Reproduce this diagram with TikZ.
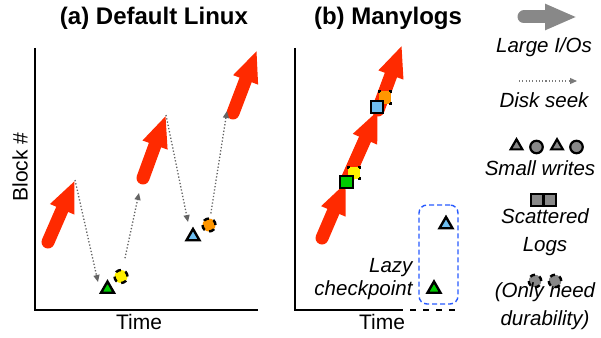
\documentclass[tikz,border=0pt]{standalone}
\usepackage{fontspec}
\setmainfont{Liberation Sans}
\usetikzlibrary{arrows.meta}
\usetikzlibrary{shapes.geometric}
\definecolor{iored}{RGB}{255,42,0}
\definecolor{wgreen}{RGB}{0,204,0}
\definecolor{wyellow}{RGB}{255,240,0}
\definecolor{wblue}{RGB}{110,190,240}
\definecolor{worange}{RGB}{255,150,0}
\definecolor{lgray}{RGB}{136,136,136}
\definecolor{skgray}{RGB}{100,100,100}
\definecolor{lzblue}{RGB}{40,90,255}
\tikzset{tri/.style = {draw, regular polygon, regular polygon sides = 3, line width = 2.4pt, inner sep = 0, minimum size = 15pt}}
\tikzset{circ/.style = {draw, circle, line width = 2.4pt, inner sep = 0, minimum size = 13pt}}
\tikzset{dcirc/.style = {circ, dash pattern = on 5.5pt off 4.7pt}}
\tikzset{sq/.style = {draw, rectangle, line width = 2.4pt, inner sep = 0, minimum size = 12.5pt}}
\tikzset{dsq/.style = {sq, dash pattern = on 4pt off 8.5pt, dash phase = 2pt}}
\tikzset{bigio/.style = {draw = iored, line width = 13pt, line cap = round, -{Triangle[length = 32pt, width = 24pt]}}}
\tikzset{seek/.style = {draw = skgray, line width = 1.3pt, dash pattern = on 1.3pt off 2pt, -{Triangle[length = 7pt, width = 6pt]}}}
\tikzset{axis/.style = {line width = 2.6pt}}
\tikzset{ttl/.style = {font = \fontsize{24}{28}\selectfont\bfseries}}
\tikzset{lbl/.style = {font = \fontsize{21}{24}\selectfont}}
\tikzset{leg/.style = {font = \fontsize{20.5}{27.5}\selectfont\itshape, align = center}}

\begin{document}
\begin{tikzpicture}[x = 1pt, y = -1pt]

    \useasboundingbox (0, 0) rectangle (601, 337);

    \node [ttl] (ta) at (154, 18) {(a) Default Linux};
    \node [ttl] (tb) at (388, 18) {(b) Manylogs};

    \draw [axis] (35, 48) -- (35, 310) -- (258, 310);
    \draw [axis] (295, 48) -- (295, 310) -- (403, 310);
    \draw [axis, dash pattern = on 6pt off 7pt, dash phase = 6pt] (403, 310) -- (462, 310);
    \node [lbl, rotate = 90] (ya) at (20, 167) {Block \#};
    \node [lbl] (xa) at (139, 322) {Time};
    \node [lbl] (xb) at (382, 322) {Time};

    \coordinate (ra0) at (48, 242);
    \coordinate (ra1) at (75, 180);
    \coordinate (rb0) at (143, 178);
    \coordinate (rb1) at (166, 115);
    \coordinate (rc0) at (233, 113);
    \coordinate (rc1) at (257, 50);
    \draw [bigio] (ra0) -- (ra1);
    \draw [bigio] (rb0) -- (rb1);
    \draw [bigio] (rc0) -- (rc1);

    \node [tri, fill = wgreen] (ga) at (107.5, 289) {};
    \node [dcirc, fill = wyellow] (ca) at (121, 276.5) {};
    \node [tri, fill = wblue] (ba) at (193, 236.5) {};
    \node [dcirc, fill = worange] (oa) at (209, 225) {};

    \coordinate (s1) at (98, 282);
    \coordinate (s2) at (139, 193);
    \coordinate (s3) at (188, 222);
    \coordinate (s4) at (227, 111);
    \draw [seek] (ra1) -- (s1);
    \draw [seek, shorten < = 11pt] (ca) -- (s2);
    \draw [seek] (rb1) -- (s3);
    \draw [seek, shorten < = 4pt] (oa) -- (s4);

    \coordinate (p0) at (322, 238);
    \coordinate (p1) at (346, 182);
    \coordinate (p2) at (378, 110);
    \coordinate (p3) at (402, 45);
    \draw [bigio] (p0) -- (p1);
    \draw [bigio] (p1) -- (p2);
    \draw [bigio] (p2) -- (p3);

    \node [dsq, fill = wyellow] (cb) at (354, 173) {};
    \node [sq, fill = wgreen] (gb) at (346.5, 182) {};
    \node [dsq, fill = worange] (ob) at (385, 97.5) {};
    \node [sq, fill = wblue] (bb) at (377, 107) {};

    \node [draw = lzblue, line width = 1.4pt, dash pattern = on 5pt off 3pt, rounded corners = 8pt, minimum width = 39pt, minimum height = 99pt] (lz) at (438.5, 254.5) {};
    \node [tri, fill = wblue] (bt) at (446, 224.5) {};
    \node [tri, fill = wgreen] (gt) at (434, 289) {};
    \node [leg, align = right, anchor = east, font = \fontsize{20.5}{23}\selectfont\itshape] (lt) at (416, 279) {Lazy\\checkpoint};

    \coordinate (l0) at (524, 17);
    \coordinate (l1) at (577, 17);
    \draw [bigio, draw = lgray] (l0) -- (l1);
    \node [leg] (t0) at (544, 47) {Large I/Os};

    \coordinate (l2) at (519, 81);
    \coordinate (l3) at (577, 81);
    \draw [seek, draw = lgray!90!black, line width = 1.1pt, dash pattern = on 1.1pt off 2.2pt] (l2) -- (l3);
    \node [leg] (t1) at (544, 100) {Disk seek};

    \node [tri, fill = lgray, line width = 2.2pt, minimum size = 13.5pt] (w0) at (516.5, 146) {};
    \node [circ, fill = lgray, line width = 2.2pt, minimum size = 12.5pt] (w1) at (536.5, 147) {};
    \node [tri, fill = lgray, line width = 2.2pt, minimum size = 13.5pt] (w2) at (557, 146) {};
    \node [circ, fill = lgray, line width = 2.2pt, minimum size = 12.5pt] (w3) at (576.5, 147) {};
    \node [leg] (t2) at (540, 168) {Small writes};

    \node [sq, fill = lgray, line width = 2pt, minimum size = 12pt] (g0) at (537, 200) {};
    \node [sq, fill = lgray, line width = 2pt, minimum size = 12pt] (g1) at (550, 200) {};
    \node [leg] (t3) at (545, 232) {Scattered\\Logs};

    \node [dcirc, fill = lgray, minimum size = 12.5pt, dash pattern = on 5pt off 4.8pt] (d0) at (535, 281) {};
    \node [dcirc, fill = lgray, minimum size = 12.5pt, dash pattern = on 5pt off 4.8pt] (d1) at (555, 281) {};
    \node [leg] (t4) at (545, 306) {(Only need\\durability)};

  \end{tikzpicture}
\end{document}
